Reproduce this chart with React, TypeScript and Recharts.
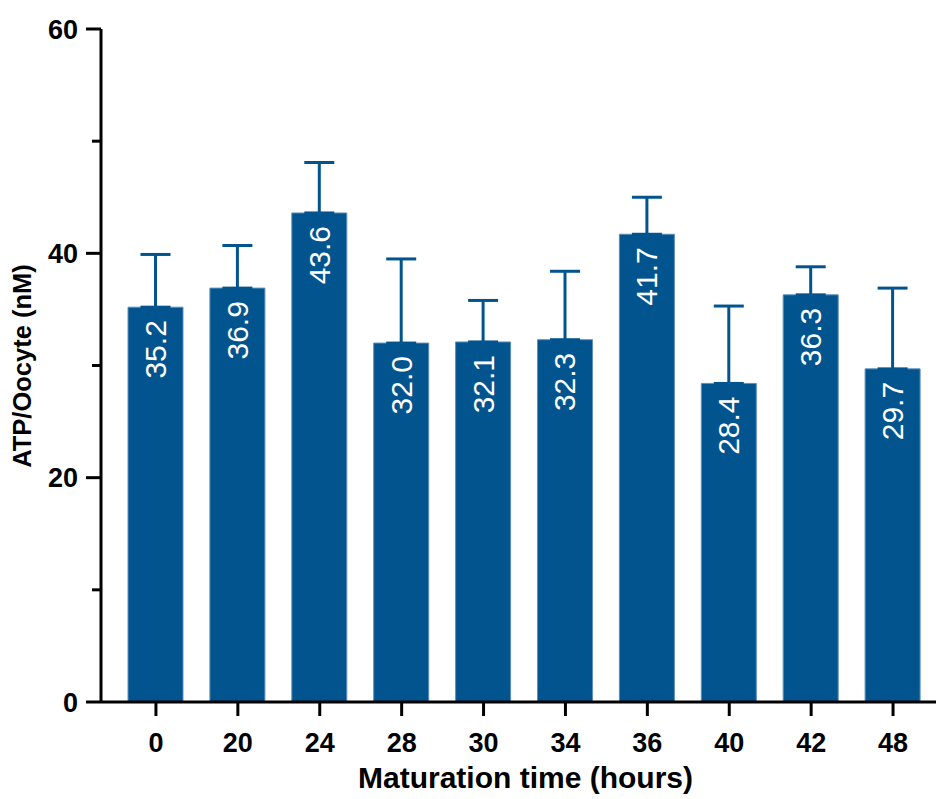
import React from 'react';
import { BarChart, Bar, XAxis, YAxis, ErrorBar, LabelList } from 'recharts';

const hours = ['0', '20', '24', '28', '30', '34', '36', '40', '42', '48'];
const atpMeans = [35.2, 36.9, 43.6, 32.0, 32.1, 32.3, 41.7, 28.4, 36.3, 29.7];
const atpErrors = [4.7, 3.8, 4.5, 7.5, 3.7, 6.1, 3.3, 6.9, 2.5, 7.2];
const yTicks = [0, 10, 20, 30, 40, 50, 60];
const yLabelTicks = [0, 20, 40, 60];

const BLUE = '#02548f';
const FONT = '"Liberation Sans", Arial, sans-serif';

const data = hours.map((h, i) => ({
  hour: h,
  atp: atpMeans[i],
  err: [0, atpErrors[i]],
}));

// y ticks: long for labelled values, short for the in-between ones
const YTick = (props: any) => {
  const { x, y, payload } = props;
  const axisX = x + 23;
  const major = yLabelTicks.includes(payload.value);
  return (
    <g>
      <line x1={axisX - (major ? 15 : 9)} x2={axisX} y1={y} y2={y} stroke="#000" strokeWidth={3} />
      {major && (
        <text x={x} y={y} dy="0.36em" textAnchor="end" fontFamily={FONT} fontWeight="bold" fontSize={27} fill="#000">
          {payload.value}
        </text>
      )}
    </g>
  );
};

const ValueLabel = (props: any) => {
  const { x, y, width, value } = props;
  const cx = x + width / 2;
  const ty = y + 13;
  return (
    <text
      x={cx}
      y={ty}
      transform={`rotate(-90, ${cx}, ${ty})`}
      textAnchor="end"
      dominantBaseline="central"
      fontFamily={FONT}
      fontSize={30}
      fill="#fff"
    >
      {Number(value).toFixed(1)}
    </text>
  );
};

export default function App() {
  return (
    <div style={{ position: 'absolute', left: 0, top: 0, width: 936, height: 799, background: '#fff' }}>
      <BarChart
        width={936}
        height={799}
        data={data}
        margin={{ top: 29, right: 0, bottom: 0, left: 0 }}
        barSize={55}
      >
        <XAxis
          dataKey="hour"
          height={97}
          padding={{ left: 14, right: 2 }}
          axisLine={{ stroke: '#000', strokeWidth: 3 }}
          tickLine={{ stroke: '#000', strokeWidth: 3 }}
          tickSize={14}
          tickMargin={17}
          tick={{ fill: '#000', fontSize: 27, fontWeight: 'bold', fontFamily: FONT }}
          label={{
            content: (p: any) => {
              const vb = p.viewBox;
              return (
                <text
                  x={vb.x + vb.width / 2 + 7}
                  y={vb.y + 86}
                  textAnchor="middle"
                  fontFamily={FONT}
                  fontWeight="bold"
                  fontSize={30}
                  fill="#000"
                >
                  Maturation time (hours)
                </text>
              );
            },
          }}
        />
        <YAxis
          width={101}
          domain={[0, 60]}
          ticks={yTicks}
          interval={0}
          axisLine={{ stroke: '#000', strokeWidth: 3 }}
          tickLine={false}
          tickSize={14}
          tickMargin={9}
          tick={<YTick />}
          label={{
            content: () => (
              <text
                x={31}
                y={366}
                transform="rotate(-90, 31, 366)"
                textAnchor="middle"
                fontFamily={FONT}
                fontWeight="bold"
                fontSize={25.5}
                fill="#000"
              >
                ATP/Oocyte (nM)
              </text>
            ),
          }}
        />
        <Bar dataKey="atp" fill={BLUE} stroke="#5d8fbb" strokeWidth={1} isAnimationActive={false}>
          <ErrorBar dataKey="err" width={15} stroke={BLUE} strokeWidth={3} direction="y" isAnimationActive={false} />
          <LabelList dataKey="atp" content={<ValueLabel />} />
        </Bar>
      </BarChart>
    </div>
  );
}
